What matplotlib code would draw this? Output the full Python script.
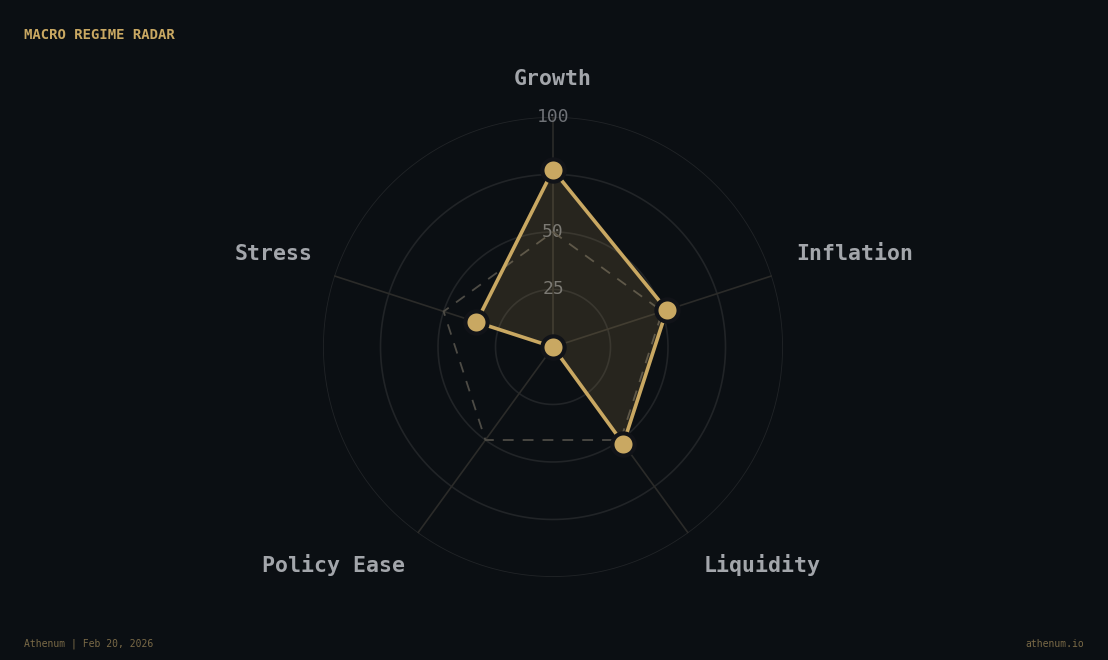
import matplotlib.pyplot as plt
import numpy as np

# data
axes_labels = ["Growth", "Inflation", "Liquidity", "Policy Ease", "Stress"]
regime_scores = [77, 52, 52, 0, 35]
baseline_scores = [50, 50, 50, 50, 50]
ring_levels = [25, 50, 75, 100]

BG = "#0b0f13"
GOLD = "#c9a862"
LABEL = "#a3a6ab"
MONO = "DejaVu Sans Mono"

fig = plt.figure(figsize=(11.08, 6.6), dpi=100, facecolor=BG)
ax = fig.add_axes([0.2915, 0.1258, 0.4152, 0.697], projection="polar")
ax.set_facecolor(BG)
ax.set_theta_offset(np.pi / 2)
ax.set_theta_direction(-1)

n = len(axes_labels)
angles = np.linspace(0, 2 * np.pi, n, endpoint=False)
closed = np.concatenate([angles, angles[:1]])

ax.set_ylim(0, 100)
ax.grid(False)
ax.spines["polar"].set_visible(False)
ax.set_xticks([])
ax.set_yticks([])

# rings and spokes
th = np.linspace(0, 2 * np.pi, 400)
for lvl in ring_levels:
    ax.plot(th, np.full_like(th, lvl), color="#212427", lw=1.2, zorder=1)
for a in angles:
    ax.plot([a, a], [0, 100], color="#2b2b29", lw=1.2, zorder=1)

# radial labels
for lvl in ring_levels:
    ax.text(0, lvl, str(lvl), color="#6e7176", fontsize=13, family=MONO,
            ha="center", va="center", zorder=1.5)

# baseline
base = baseline_scores + baseline_scores[:1]
ax.plot(closed, base, color="#4d4b45", lw=1.3, ls=(0, (6, 5)), zorder=2)

# regime
vals = regime_scores + regime_scores[:1]
ax.fill(closed, vals, color=GOLD, alpha=0.15, zorder=3, lw=0)
ax.plot(closed, vals, color=GOLD, lw=2.6, zorder=4)
ax.plot(angles, regime_scores, "o", ms=16, mfc=GOLD, mec="#111318", mew=3,
        zorder=5, clip_on=False)

# axis labels, anchored at the outer ring end of each spoke
label_off = [(0, 38), (24, 22), (15, -32), (-13, -32), (-22, 22)]
label_ha = ["center", "left", "left", "right", "right"]
for a, lab, off, ha in zip(angles, axes_labels, label_off, label_ha):
    ax.annotate(lab, xy=(a, 100), xytext=off, textcoords="offset pixels",
                color=LABEL, fontsize=15.5, fontweight="bold", family=MONO,
                ha=ha, va="center", annotation_clip=False)

fig.text(24 / 1108, 1 - 35 / 660, "MACRO REGIME RADAR", color=GOLD, fontsize=10,
         fontweight="bold", family=MONO, ha="left", va="center")
fig.text(24 / 1108, 1 - 644 / 660, "Athenum | Feb 20, 2026", color="#7a6a47",
         fontsize=7, family=MONO, ha="left", va="center")
fig.text(1 - 24 / 1108, 1 - 644 / 660, "athenum.io", color="#7a6a47",
         fontsize=7, family=MONO, ha="right", va="center")

fig.savefig("out.png", dpi=100, facecolor=BG)
